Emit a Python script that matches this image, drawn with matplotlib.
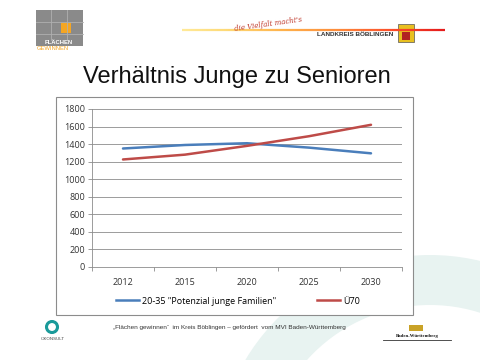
import matplotlib
matplotlib.use("Agg")
import matplotlib.pyplot as plt
from matplotlib.patches import Rectangle, Circle, Wedge
from matplotlib.lines import Line2D
import numpy as np

years = ["2012", "2015", "2020", "2025", "2030"]
junge = [1350, 1390, 1410, 1360, 1295]
u70 = [1225, 1280, 1380, 1490, 1620]
series_names = ['20-35 "Potenzial junge Familien"', "Ü70"]
yticks = [0, 200, 400, 600, 800, 1000, 1200, 1400, 1600, 1800]

W, H = 480, 360
fig = plt.figure(figsize=(4.8, 3.6), dpi=100)
fig.patch.set_facecolor("white")

def fx(x): return x / W
def fy(y): return 1 - y / H

bg = fig.add_axes([0, 0, 1, 1], zorder=-5)
bg.set_xlim(0, W); bg.set_ylim(H, 0); bg.axis("off")
# faint background ring (bottom right)
bg.add_patch(Wedge((430, 470), 215, 0, 360, width=50, facecolor="#e8f3f1", edgecolor="none"))

# header: Flächen gewinnen logo
bg.add_patch(Rectangle((36, 10), 47, 36, facecolor="#8a8a8a", edgecolor="none"))
for xx in [51, 67]:
    bg.plot([xx, xx], [10, 40], color="#b0b0b0", lw=0.6)
for yy in [22, 34]:
    bg.plot([36, 83], [yy, yy], color="#b0b0b0", lw=0.6)
bg.add_patch(Rectangle((61, 23), 10, 10, facecolor="#f5a623", edgecolor="none"))
bg.text(59, 42, "FLÄCHEN", color="white", fontsize=4.2, ha="center", va="center",
        family="Liberation Sans", weight="bold")
bg.text(37, 49, "GEWINNEN", color="#f5a623", fontsize=4.2, ha="left", va="center",
        family="Liberation Sans")

# Landkreis banner
xs = np.linspace(182, 445, 120)
cols = plt.cm.YlOrRd(np.linspace(0.15, 0.75, len(xs)))
for i in range(len(xs) - 1):
    bg.plot(xs[i:i + 2], [29.5, 29.5], color=cols[i], lw=1.6, solid_capstyle="butt")
bg.text(268, 24, "die Vielfalt macht's", color="#c0392b", fontsize=5, style="italic",
        ha="center", va="center", rotation=8, family="DejaVu Serif")
bg.text(355, 34, "LANDKREIS BÖBLINGEN", color="#333333", fontsize=4.6, weight="bold",
        ha="center", va="center", family="Liberation Sans")
bg.add_patch(Rectangle((398, 24), 16, 18, facecolor="#e8c020", edgecolor="#555", lw=0.5))
bg.add_patch(Rectangle((402, 32), 8, 8, facecolor="#b22222", edgecolor="none"))

# title
fig.text(fx(237), fy(77), "Verhältnis Junge zu Senioren", fontsize=17,
         ha="center", va="center", family="Liberation Sans", color="#111111")

# chart border
bg.add_patch(Rectangle((56, 97), 357, 218, facecolor="white", edgecolor="#8c8c8c", lw=0.8, zorder=1))

# chart
ax = fig.add_axes([fx(92), fy(267), (402 - 92) / W, (267 - 109) / H])
x = np.arange(len(years))
blue, red = "#4A7EBB", "#BE4B48"
ax.plot(x, junge, color=blue, lw=1.8, solid_capstyle="round")
ax.plot(x, u70, color=red, lw=1.8, solid_capstyle="round")
ax.set_xlim(-0.5, len(years) - 0.5)
ax.set_ylim(0, 1800)
ax.set_yticks(yticks)
ax.set_yticklabels([str(v) for v in yticks])
ax.yaxis.grid(True, color="#8c8c8c", lw=0.6)
ax.set_axisbelow(True)
ax.set_xticks(x)
ax.set_xticklabels(years)
ax.set_xticks(np.arange(-0.5, len(years)), minor=True)
ax.tick_params(axis="x", which="major", length=0, pad=8)
ax.tick_params(axis="x", which="minor", length=3, color="#8c8c8c", width=0.6)
ax.tick_params(axis="y", length=3, color="#8c8c8c", width=0.6, pad=2)
for lab in ax.get_xticklabels() + ax.get_yticklabels():
    lab.set_fontsize(6.5)
    lab.set_family("Open Sans")
    lab.set_color("#333333")
for s in ["top", "right"]:
    ax.spines[s].set_visible(False)
for s in ["left", "bottom"]:
    ax.spines[s].set_color("#8c8c8c")
    ax.spines[s].set_linewidth(0.6)

# legend
handles = [Line2D([], [], color=blue, lw=1.8), Line2D([], [], color=red, lw=1.8)]
fig.legend(handles, series_names, loc="center", bbox_to_anchor=(fx(238), fy(301)),
           ncol=2, frameon=False, prop={"family": "Open Sans", "size": 6.5},
           handlelength=2.6, handletextpad=0.3, columnspacing=4.5)

# footer
bg.add_patch(Circle((52, 327), 5.5, facecolor="none", edgecolor="#1a9a9a", lw=2.2))
bg.text(53, 339, "ÖKONSULT", fontsize=3.2, ha="center", va="center", color="#444",
        family="Liberation Sans")
bg.text(229, 328, "„Flächen gewinnen“  im Kreis Böblingen – gefördert  vom MVI Baden-Württemberg",
        fontsize=4.6, ha="center", va="center", color="#333", family="Liberation Sans")
bg.text(417, 336, "Baden-Württemberg", fontsize=3.4, ha="center", va="center",
        color="#111", weight="bold", family="Liberation Serif")
bg.add_patch(Rectangle((409, 325), 14, 6, facecolor="#c9a227", edgecolor="none"))
bg.plot([383, 451], [340, 340], color="#333", lw=0.6)

fig.savefig("out.png", dpi=100, facecolor="white")
